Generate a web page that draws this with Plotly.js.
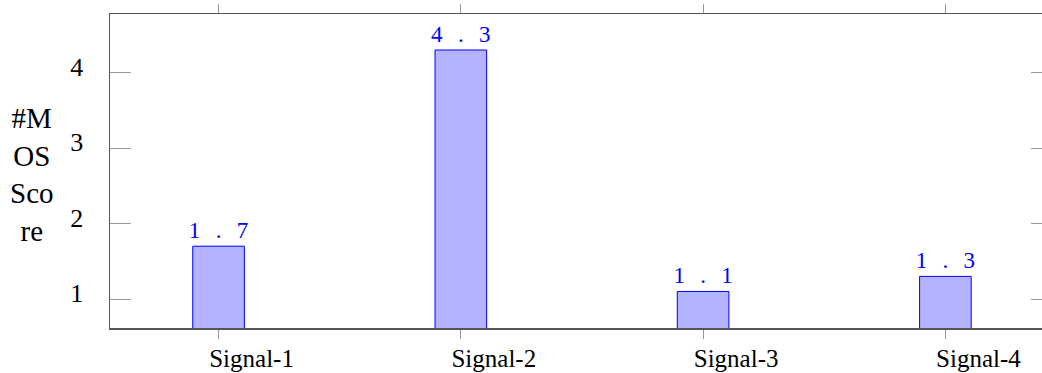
<!DOCTYPE html>
<html>
<head>
<meta charset="utf-8">
<script src="https://cdn.plot.ly/plotly-3.0.1.min.js"></script>
<style>
html,body{margin:0;padding:0;overflow:hidden;background:#fff;}
#chart{width:1062px;height:373px;}
</style>
</head>
<body>
<div id="chart"></div>
<script>
const categories = ["Signal-1", "Signal-2", "Signal-3", "Signal-4"];
const mosScores = [1.7, 4.3, 1.1, 1.3];
const yTickVals = [1, 2, 3, 4];
const yTitle = "#M<br>OS<br>Sco<br>re";

const SERIF = '"Liberation Serif", "Times New Roman", "DejaVu Serif", serif';
const spacedLabel = v => String(v).split('').join('\u2002\u2006');

const trace = {
  type: 'bar',
  x: categories,
  y: mosScores,
  width: 0.213,
  marker: {color: 'rgb(179,179,255)', line: {color: '#0000ff', width: 1}},
  text: mosScores.map(spacedLabel),
  textposition: 'outside',
  constraintext: 'none',
  cliponaxis: false,
  textfont: {family: SERIF, size: 23, color: '#0000ff'},
  hoverinfo: 'none'
};

const layout = {
  width: 1062,
  height: 373,
  margin: {l: 110, r: 10, t: 14, b: 45},
  paper_bgcolor: '#fff',
  plot_bgcolor: '#fff',
  showlegend: false,
  font: {family: SERIF, color: '#000'},
  xaxis: {
    type: 'category',
    categoryorder: 'array',
    categoryarray: categories,
    range: [-0.448, 3.44],
    showline: true, linecolor: '#555', linewidth: 1.5, mirror: 'ticks',
    ticks: 'outside', ticklen: 9, tickcolor: '#999', tickwidth: 1,
    showgrid: false, zeroline: false,
    tickfont: {family: SERIF, size: 25, color: '#000'},
    ticklabelshift: 33,
    ticklabelstandoff: -2
  },
  yaxis: {
    range: [0.616, 4.777],
    tickvals: yTickVals,
    showline: true, linecolor: '#555', linewidth: 1.5, mirror: 'ticks',
    ticks: 'inside', ticklen: 21, tickcolor: '#999', tickwidth: 1,
    showgrid: false, zeroline: false,
    tickfont: {family: SERIF, size: 26, color: '#000'},
    ticklabelstandoff: 20,
    ticklabelshift: -6
  },
  annotations: [{
    xref: 'paper', yref: 'paper',
    x: -78 / 942, y: 0.49,
    xanchor: 'center', yanchor: 'middle',
    showarrow: false,
    text: yTitle,
    align: 'center',
    font: {family: SERIF, size: 29, color: '#000'}
  }]
};

Plotly.newPlot('chart', [trace], layout, {displayModeBar: false, staticPlot: true});
</script>
</body>
</html>
